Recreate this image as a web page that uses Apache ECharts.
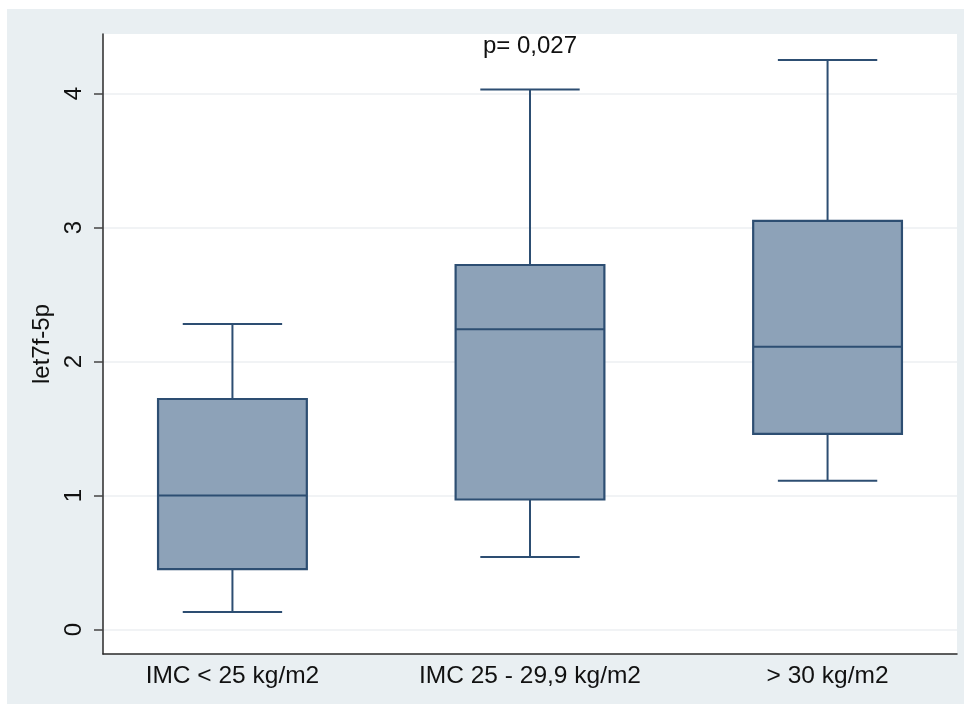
<!DOCTYPE html>
<html>
<head>
<meta charset="utf-8">
<script src="https://cdn.jsdelivr.net/npm/echarts@6/dist/echarts.min.js"></script>
<style>
html,body{margin:0;padding:0;background:#fff;}
#chart{width:971px;height:711px;}
</style>
</head>
<body>
<div id="chart"></div>
<script>
// ---- data ----
var categories = ['IMC < 25 kg/m2', 'IMC 25 - 29,9 kg/m2', '> 30 kg/m2'];
var lowerWhisker = [0.13, 0.54, 1.11];
var q1 = [0.45, 0.97, 1.46];
var median = [1.00, 2.24, 2.11];
var q3 = [1.72, 2.72, 3.05];
var upperWhisker = [2.28, 4.03, 4.25];
var yTicks = [0, 1, 2, 3, 4];
var yAxisName = 'let7f-5p';
var annotationText = 'p= 0,027';
var annotationPos = [2, 4.35];

// ---- build ----
var positions = categories.map(function (c, i) { return i + 1; });
var boxData = categories.map(function (c, i) {
  return [positions[i], lowerWhisker[i], q1[i], median[i], q3[i], upperWhisker[i]];
});

var FONT = '"Liberation Sans", Arial, Helvetica, sans-serif';
var STROKE = '#2d4e72';
var FILL = '#8da2b8';
var BOX_HALF = 0.25;
var CAP_HALF = 0.167;

var chart = echarts.init(document.getElementById('chart'), null, {renderer: 'canvas'});
chart.setOption({
  backgroundColor: '#ffffff',
  animation: false,
  graphic: [{
    type: 'rect', left: 7, top: 9, z: -100,
    shape: {width: 957, height: 695},
    style: {fill: '#e9eff2'}
  }],
  grid: {
    left: 103, right: 14, top: 34, bottom: 57,
    show: true, backgroundColor: '#ffffff', borderWidth: 0
  },
  xAxis: {
    type: 'value', min: 0.565, max: 3.435,
    axisLine: {show: true, onZero: false, lineStyle: {color: '#2a2a2a', width: 1.5}},
    axisTick: {show: false},
    splitLine: {show: false},
    axisLabel: {
      customValues: positions,
      margin: 10,
      fontFamily: FONT, fontSize: 24.5, color: '#111111',
      formatter: function (v) { return categories[Math.round(v) - 1] || ''; }
    }
  },
  yAxis: {
    type: 'value', min: -0.183, max: 4.444,
    name: yAxisName, nameLocation: 'middle', nameRotate: 90, nameGap: 47,
    nameTextStyle: {fontFamily: FONT, fontSize: 24, color: '#111111'},
    axisLine: {show: true, onZero: false, lineStyle: {color: '#2a2a2a', width: 1.5}},
    axisTick: {show: true, customValues: yTicks, length: 9, lineStyle: {color: '#444', width: 1.5}},
    splitLine: {show: true, lineStyle: {color: '#eceff2', width: 1.5}},
    axisLabel: {
      customValues: yTicks, rotate: 90, margin: 17,
      fontFamily: FONT, fontSize: 24, color: '#111111'
    }
  },
  series: [{
    type: 'custom',
    data: boxData,
    encode: {x: 0, y: [1, 2, 3, 4, 5]},
    renderItem: function (params, api) {
      var x = api.value(0);
      var lo = api.value(1), a = api.value(2), m = api.value(3), b = api.value(4), hi = api.value(5);
      var tl = api.coord([x - BOX_HALF, b]);
      var br = api.coord([x + BOX_HALF, a]);
      var mL = api.coord([x - BOX_HALF, m]);
      var mR = api.coord([x + BOX_HALF, m]);
      var c = api.coord([x, hi]);
      var cLo = api.coord([x, lo]);
      var capLh = api.coord([x - CAP_HALF, hi]);
      var capRh = api.coord([x + CAP_HALF, hi]);
      var capLl = api.coord([x - CAP_HALF, lo]);
      var capRl = api.coord([x + CAP_HALF, lo]);
      var ls = {stroke: STROKE, lineWidth: 2};
      return {
        type: 'group',
        children: [
          {type: 'line', shape: {x1: c[0], y1: c[1], x2: c[0], y2: tl[1]}, style: ls},
          {type: 'line', shape: {x1: cLo[0], y1: br[1], x2: cLo[0], y2: cLo[1]}, style: ls},
          {type: 'line', shape: {x1: capLh[0], y1: capLh[1], x2: capRh[0], y2: capRh[1]}, style: ls},
          {type: 'line', shape: {x1: capLl[0], y1: capLl[1], x2: capRl[0], y2: capRl[1]}, style: ls},
          {type: 'rect', shape: {x: tl[0], y: tl[1], width: br[0] - tl[0], height: br[1] - tl[1]},
            style: {fill: FILL, stroke: STROKE, lineWidth: 2.2}},
          {type: 'line', shape: {x1: mL[0], y1: mL[1], x2: mR[0], y2: mR[1]}, style: ls}
        ]
      };
    }
  }, {
    type: 'scatter',
    data: [annotationPos],
    symbolSize: 0,
    silent: true,
    itemStyle: {opacity: 1},
    label: {
      show: true, position: 'inside', formatter: annotationText,
      fontFamily: FONT, fontSize: 24, color: '#111111', opacity: 1
    }
  }]
});
</script>
</body>
</html>
